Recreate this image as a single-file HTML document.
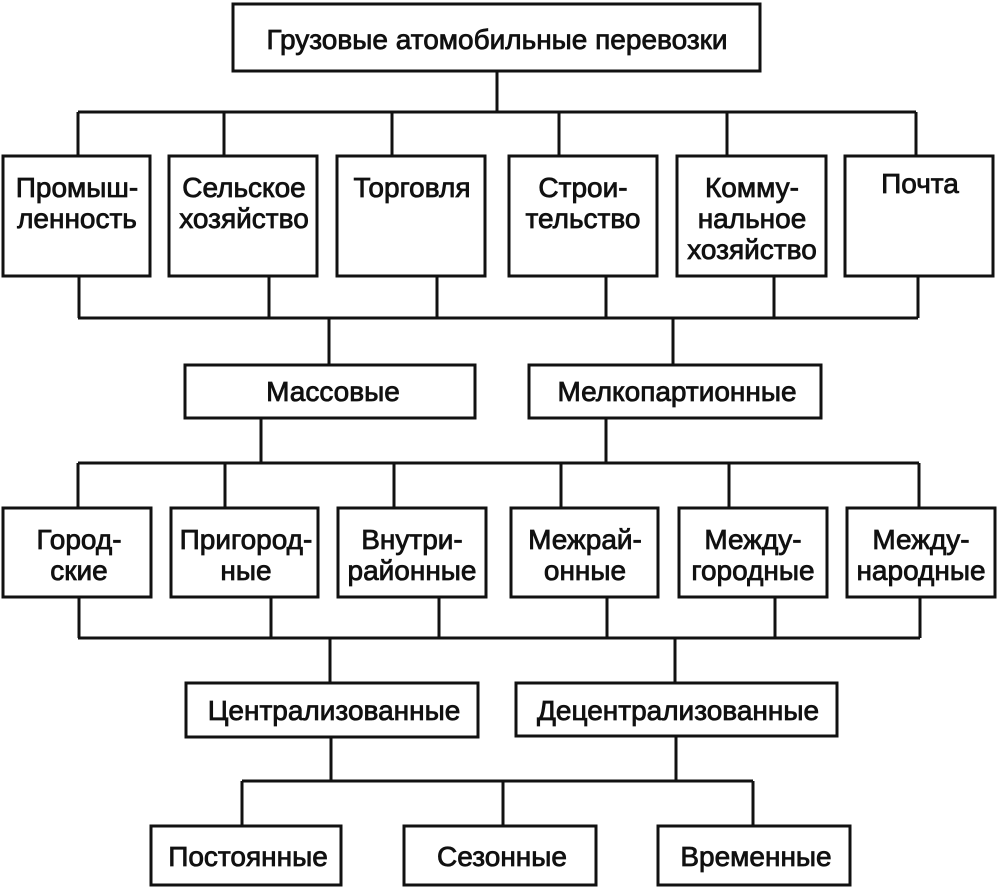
<!DOCTYPE html>
<html><head><meta charset="utf-8"><style>
html,body{margin:0;padding:0;background:#fff;}
svg{display:block;}
text{font-family:"Liberation Sans",Arial,sans-serif;font-size:28px;fill:#111;stroke:#111;stroke-width:0.8;text-anchor:middle;}
</style></head><body>
<svg width="1000" height="887" viewBox="0 0 1000 887" xmlns="http://www.w3.org/2000/svg">
<g fill="none" stroke="#111" stroke-width="3">
<rect x="233" y="4" width="527" height="67"/>
<path d="M497 71V112M78 112H916M78 112V156M224 112V156M392 112V156M559 112V156M727 112V156M916 112V156"/>
<rect x="3" y="156" width="147" height="120"/>
<rect x="169" y="156" width="148" height="120"/>
<rect x="337" y="156" width="148" height="120"/>
<rect x="509" y="156" width="148" height="120"/>
<rect x="677" y="156" width="149" height="120"/>
<rect x="845" y="156" width="148" height="120"/>
<path d="M79 276V318M269 276V318M437 276V318M606 276V318M774 276V318M918 276V318M78 318H918M329 318V365M673 318V365"/>
<rect x="185" y="365" width="290" height="53"/>
<rect x="529" y="365" width="292" height="53"/>
<path d="M261 418V463M606 418V463M78 463H919M78 463V508M225 463V508M394 463V508M561 463V508M729 463V508M919 463V508"/>
<rect x="3" y="508" width="148" height="89"/>
<rect x="171" y="508" width="147" height="89"/>
<rect x="338" y="508" width="148" height="89"/>
<rect x="511" y="508" width="147" height="89"/>
<rect x="679" y="508" width="148" height="89"/>
<rect x="847" y="508" width="148" height="89"/>
<path d="M79 597V638M271 597V638M439 597V638M607 597V638M775 597V638M920 597V638M78 638H920M330 638V683M675 638V683"/>
<rect x="186" y="683" width="292" height="54"/>
<rect x="516" y="683" width="321" height="53"/>
<path d="M331 737V781M676 736V781M242 781H753M242 781V826M503 781V826M753 781V826"/>
<rect x="151" y="826" width="190" height="59"/>
<rect x="404" y="826" width="192" height="59"/>
<rect x="658" y="826" width="192" height="59"/>
</g>
<text x="497" y="49">Грузовые атомобильные перевозки</text>
<text x="77" y="197">Промыш-</text><text x="77" y="228">ленность</text>
<text x="244" y="197">Сельское</text><text x="244" y="228">хозяйство</text>
<text x="412" y="197">Торговля</text>
<text x="583" y="197">Строи-</text><text x="583" y="228">тельство</text>
<text x="752" y="197">Комму-</text><text x="752" y="228">нальное</text><text x="752" y="259">хозяйство</text>
<text x="920" y="193">Почта</text>
<text x="333" y="401">Массовые</text>
<text x="677" y="401">Мелкопартионные</text>
<text x="79" y="549">Город-</text><text x="79" y="580">ские</text>
<text x="246" y="549">Пригород-</text><text x="246" y="580">ные</text>
<text x="412" y="549">Внутри-</text><text x="412" y="580">районные</text>
<text x="585" y="549">Межрай-</text><text x="585" y="580">онные</text>
<text x="753" y="549">Между-</text><text x="753" y="580">городные</text>
<text x="921" y="549">Между-</text><text x="921" y="580">народные</text>
<text x="334" y="720">Централизованные</text>
<text x="678" y="720">Децентрализованные</text>
<text x="248" y="866">Постоянные</text>
<text x="502" y="866">Сезонные</text>
<text x="756" y="866">Временные</text>
</svg>
</body></html>
